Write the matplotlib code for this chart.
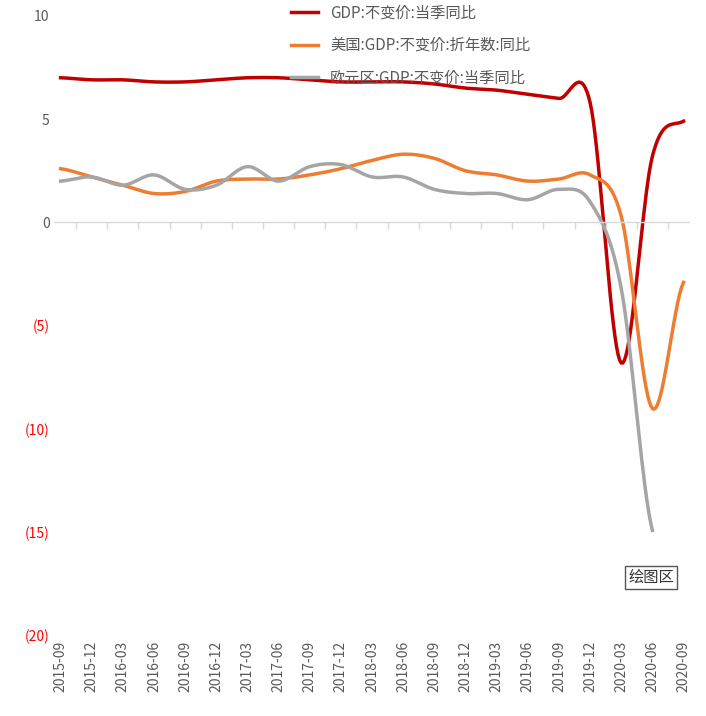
import matplotlib
matplotlib.use("Agg")
import matplotlib.pyplot as plt
from matplotlib import font_manager as fm
import numpy as np
from matplotlib.ticker import FuncFormatter

cjk = None
for f in fm.findSystemFonts():
    if "NotoSansCJK" in f.replace(" ", "") or "NotoSansSC" in f.replace(" ", ""):
        try:
            fm.fontManager.addfont(f)
            cjk = fm.FontProperties(fname=f).get_name()
            break
        except Exception:
            pass
plt.rcParams['font.family'] = [cjk] if cjk else ['Noto Sans CJK SC', 'Noto Sans CJK JP', 'DejaVu Sans']

dates = ["2015-09","2015-12","2016-03","2016-06","2016-09","2016-12","2017-03","2017-06","2017-09","2017-12",
         "2018-03","2018-06","2018-09","2018-12","2019-03","2019-06","2019-09","2019-12","2020-03","2020-06","2020-09"]
china = [7.0,6.9,6.9,6.8,6.8,6.9,7.0,7.0,6.9,6.8,6.8,6.8,6.7,6.5,6.4,6.2,6.0,5.8,-6.8,3.2,4.9]
usa = [2.6,2.2,1.8,1.4,1.5,2.0,2.1,2.1,2.3,2.6,3.0,3.3,3.1,2.5,2.3,2.0,2.1,2.3,0.3,-9.0,-2.9]
euro = [2.0,2.2,1.8,2.3,1.6,1.8,2.7,2.0,2.7,2.8,2.2,2.2,1.6,1.4,1.4,1.1,1.6,1.0,-3.2,-14.9]
names = ["GDP:不变价:当季同比","美国:GDP:不变价:折年数:同比","欧元区:GDP:不变价:当季同比"]
colors = ["#C00000","#ED7D31","#A5A5A5"]

def smooth(y, n=20):
    y = np.asarray(y, float); x = np.arange(len(y))
    p = np.concatenate([[y[0]], y, [y[-1]]])
    xs, ys = [], []
    for i in range(len(y)-1):
        p0,p1,p2,p3 = p[i],p[i+1],p[i+2],p[i+3]
        t = np.linspace(0,1,n,endpoint=False)
        ys.append(0.5*((2*p1)+(-p0+p2)*t+(2*p0-5*p1+4*p2-p3)*t**2+(-p0+3*p1-3*p2+p3)*t**3))
        xs.append(x[i]+t)
    xs.append([x[-1]]); ys.append([y[-1]])
    return np.concatenate(xs), np.concatenate(ys)

fig = plt.figure(figsize=(7.06,7.16), dpi=100)
ax = fig.add_axes([0.077, 0.112, 0.9, 0.866])
for s, nm, c in zip([china, usa, euro], names, colors):
    xs, ys = smooth(s)
    ax.plot(xs, ys, color=c, lw=2.5, label=nm)

ax.set_ylim(-20, 10)
ax.set_xlim(-0.2, len(dates)-0.8)
ax.set_yticks([10,5,0,-5,-10,-15,-20])
ax.yaxis.set_major_formatter(FuncFormatter(lambda v,p: f"({abs(int(v))})" if v<0 else f"{int(v)}"))
for lab, v in zip(ax.get_yticklabels(), [10,5,0,-5,-10,-15,-20]):
    lab.set_color("red" if v < 0 else "#595959")
ax.set_xticks(range(len(dates)))
ax.set_xticklabels(dates, rotation=90, fontsize=10, color="#595959")
ax.tick_params(length=0, labelsize=10)
for sp in ax.spines.values(): sp.set_visible(False)
ax.axhline(0, color="#D9D9D9", lw=1)
ax.vlines(np.arange(len(dates)+1)-0.5, -0.3, 0, color="#D9D9D9", lw=1)
ax.legend(loc="upper left", bbox_to_anchor=(0.35, 1.04), frameon=False, fontsize=11,
          labelspacing=1.0, handlelength=1.8, labelcolor="#595959")
fig.text(0.89, 0.187, "绘图区", fontsize=11, color="#333333",
         bbox=dict(boxstyle="square,pad=0.2", fc="white", ec="#555555"))
fig.savefig("out.png", dpi=100)
